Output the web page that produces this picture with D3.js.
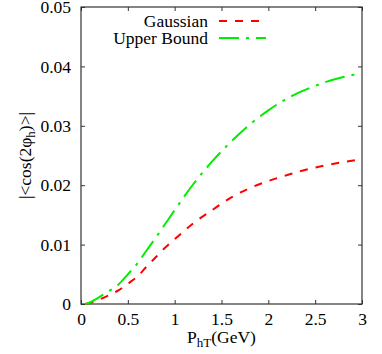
<!DOCTYPE html>
<html>
<head>
<meta charset="utf-8">
<script src="https://cdn.jsdelivr.net/npm/d3@7"></script>
<style>
  body { margin: 0; background: #fff; }
  text { font-family: "Liberation Serif", "DejaVu Serif", serif; fill: #000; }
</style>
</head>
<body>
<div id="chart"></div>
<script>
// values
const pht = [0.05, 0.1, 0.2, 0.3, 0.4, 0.5, 0.6, 0.7, 0.8, 0.9, 1.0, 1.2, 1.4, 1.6, 1.8, 2.0, 2.2, 2.4, 2.6, 2.8, 3.0];
const gaussian = [0, 0.0002, 0.0008, 0.0015, 0.0023, 0.0034, 0.0046, 0.0063, 0.0079, 0.0095, 0.0109, 0.0136, 0.0158, 0.0179, 0.0195, 0.0207, 0.0217, 0.0226, 0.0233, 0.0239, 0.0244];
const upperBound = [0, 0.0003, 0.0012, 0.0022, 0.0033, 0.0050, 0.0068, 0.0090, 0.0112, 0.0135, 0.0158, 0.0202, 0.0240, 0.0273, 0.0302, 0.0326, 0.0346, 0.0361, 0.0373, 0.0382, 0.0389];
const xTicks = [0, 0.5, 1, 1.5, 2, 2.5, 3];
const yTicks = [0, 0.01, 0.02, 0.03, 0.04, 0.05];

const series = [
  { name: "Gaussian", values: gaussian, color: "#ff0000", dash: "8,8" },
  { name: "Upper Bound", values: upperBound, color: "#00ee00", dash: "20,7,3,7" }
];

const width = 382, height = 354;
const margin = { top: 7, right: 20, bottom: 50, left: 81 };
const fs = 17.5;

const svg = d3.select("#chart").append("svg")
  .attr("width", width)
  .attr("height", height);

const x = d3.scaleLinear().domain([0, 3]).range([margin.left, width - margin.right]);
const y = d3.scaleLinear().domain([0, 0.05]).range([height - margin.bottom, margin.top]);

// ticks on all four sides, pointing inward
const tickLen = 4;
const axisColor = "#333";
svg.append("g")
  .attr("transform", `translate(0,${y(0)})`)
  .call(d3.axisBottom(x).tickValues(xTicks).tickSize(-tickLen).tickPadding(9).tickFormat(d3.format("")))
  .call(g => g.select(".domain").remove())
  .call(g => g.selectAll("line").attr("stroke", axisColor))
  .call(g => g.selectAll("text").attr("font-size", fs));
svg.append("g")
  .attr("transform", `translate(0,${y(0.05)})`)
  .call(d3.axisTop(x).tickValues(xTicks).tickSize(-tickLen).tickFormat(""))
  .call(g => g.select(".domain").remove())
  .call(g => g.selectAll("line").attr("stroke", axisColor));
svg.append("g")
  .attr("transform", `translate(${x(0)},0)`)
  .call(d3.axisLeft(y).tickValues(yTicks).tickSize(-tickLen).tickPadding(10).tickFormat(d => d === 0 ? "0" : d3.format(".2f")(d)))
  .call(g => g.select(".domain").remove())
  .call(g => g.selectAll("line").attr("stroke", axisColor))
  .call(g => g.selectAll("text").attr("font-size", fs));
svg.append("g")
  .attr("transform", `translate(${x(3)},0)`)
  .call(d3.axisRight(y).tickValues(yTicks).tickSize(-tickLen).tickFormat(""))
  .call(g => g.select(".domain").remove())
  .call(g => g.selectAll("line").attr("stroke", axisColor));

// frame
svg.append("rect")
  .attr("x", x(0)).attr("y", y(0.05))
  .attr("width", x(3) - x(0)).attr("height", y(0) - y(0.05))
  .attr("fill", "none").attr("stroke", axisColor).attr("stroke-width", 1.2);

// curves
const line = d3.line()
  .x((d, i) => x(pht[i]))
  .y(d => y(d))
  .curve(d3.curveMonotoneX);

svg.selectAll(".curve")
  .data(series)
  .join("path")
  .attr("class", "curve")
  .attr("fill", "none")
  .attr("stroke", d => d.color)
  .attr("stroke-width", 2)
  .attr("stroke-dasharray", d => d.dash)
  .attr("d", d => line(d.values));

// legend
const legend = svg.append("g");
series.forEach((s, i) => {
  const ly = 21 + i * 17;
  legend.append("text")
    .attr("x", 208).attr("y", ly)
    .attr("dy", "0.35em")
    .attr("text-anchor", "end")
    .attr("font-size", fs)
    .text(s.name);
  legend.append("line")
    .attr("x1", 219).attr("x2", 266)
    .attr("y1", ly).attr("y2", ly)
    .attr("stroke", s.color)
    .attr("stroke-width", 2)
    .attr("stroke-dasharray", s.dash);
});

// axis titles
const xTitle = svg.append("text")
  .attr("x", x(1.5)).attr("y", 343)
  .attr("text-anchor", "middle")
  .attr("font-size", fs);
xTitle.append("tspan").text("P");
xTitle.append("tspan").attr("font-size", 13).attr("dy", 4).text("hT");
xTitle.append("tspan").attr("dy", -4).text("(GeV)");

const yTitle = svg.append("text")
  .attr("transform", `translate(31,${y(0.025)}) rotate(-90)`)
  .attr("text-anchor", "middle")
  .attr("font-size", fs);
yTitle.append("tspan").text("|<cos(2φ");
yTitle.append("tspan").attr("font-size", 13).attr("dy", 4).text("h");
yTitle.append("tspan").attr("dy", -4).text(")>|");
</script>
</body>
</html>
